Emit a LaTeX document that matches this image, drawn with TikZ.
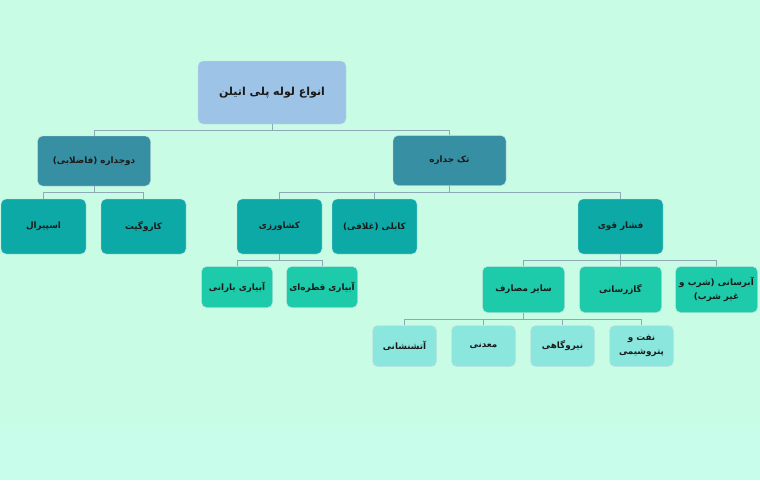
\documentclass[tikz,border=0pt]{standalone}
\usepackage{fontspec}
\TeXXeTstate=1
\newfontfamily\fafont[Script=Arabic]{DejaVu Sans}
\definecolor{bgtop}{HTML}{C8FCE4}
\definecolor{bgbot}{HTML}{C8FDEB}
\definecolor{crootfill}{HTML}{9DC3E6}
\definecolor{clvla}{HTML}{378FA3}
\definecolor{clvlb}{HTML}{0DA9A7}
\definecolor{clvlc}{HTML}{1DCBAA}
\definecolor{clvld}{HTML}{8BE7DE}
\definecolor{cconn}{HTML}{8FA8B6}
\definecolor{ctext}{HTML}{1A1A1A}
\tikzset{
  box/.style={rounded corners=5pt, draw=white!60!cconn, line width=0.4pt, inner sep=2pt,
    align=center, text=ctext, font=\fafont\bfseries\fontsize{8.8}{14}\selectfont},
  rootbox/.style={box, fill=crootfill, minimum width=148, minimum height=63,
    font=\fafont\bfseries\fontsize{11}{13}\selectfont},
  boxa/.style={box, fill=clvla, minimum width=113, minimum height=50},
  boxb/.style={box, fill=clvlb, minimum width=85, minimum height=55},
  boxc/.style={box, fill=clvlc, minimum width=71, minimum height=41},
  boxcw/.style={box, fill=clvlc, minimum width=82, minimum height=46},
  boxd/.style={box, fill=clvld, minimum width=64, minimum height=41},
  conn/.style={draw=cconn, line width=0.7pt}
}
\begin{document}
\begin{tikzpicture}[x=1pt,y=-1pt]
\fill[bgbot] (0,0) rectangle (760,480);
\fill[bgtop] (0,0) rectangle (760,425);
\useasboundingbox (0,0) rectangle (760,480);
% nodes
\node[rootbox] (root) at (272,92.5) {\beginR انواع لوله پلی اتیلن\endR};
\node[boxa] (dj) at (94,161) {\beginR دوجداره (فاضلابی)\endR};
\node[boxa] (tj) at (449.5,160.5) {\beginR تک جداره\endR};
\node[boxb] (asp) at (43.5,226.5) {\beginR اسپیرال\endR};
\node[boxb] (kar) at (143.5,226.5) {\beginR کاروگیت\endR};
\node[boxb] (kesh) at (279.5,226.5) {\beginR کشاورزی\endR};
\node[boxb] (kab) at (374.5,226.5) {\beginR کابلی (غلافی)\endR};
\node[boxb] (fesh) at (620.5,226.5) {\beginR فشار قوی\endR};
\node[boxc] (bar) at (237,287) {\beginR آبیاری بارانی\endR};
\node[boxc] (ghat) at (322,287) {\beginR آبیاری قطره‌ای\endR};
\node[boxcw] (sayer) at (523.5,289.5) {\beginR سایر مصارف\endR};
\node[boxcw] (gaz) at (620.5,289.5) {\beginR گازرسانی\endR};
\node[boxcw] (ab) at (716.5,289.5) {\beginR آبرسانی (شرب و\endR\\\beginR غیر شرب)\endR};
\node[boxd] (atash) at (404.5,346) {\beginR آتشنشانی\endR};
\node[boxd] (maad) at (483.5,346) {\beginR معدنی\endR};
\node[boxd] (niru) at (562.5,346) {\beginR نیروگاهی\endR};
\node[boxd] (naft) at (641.5,346) {\beginR نفت و\endR\\\beginR پتروشیمی\endR};
% connectors
\draw[conn] (root.south) -- ++(0,6.5) -| (dj.north);
\draw[conn] (root.south) -- ++(0,6.5) -| (tj.north);
\draw[conn] (dj.south) -- ++(0,6.5) -| (asp.north);
\draw[conn] (dj.south) -- ++(0,6.5) -| (kar.north);
\draw[conn] (tj.south) -- ++(0,7) -| (kesh.north);
\draw[conn] (tj.south) -- ++(0,7) -| (kab.north);
\draw[conn] (tj.south) -- ++(0,7) -| (fesh.north);
\draw[conn] (kesh.south) -- ++(0,6.5) -| (bar.north);
\draw[conn] (kesh.south) -- ++(0,6.5) -| (ghat.north);
\draw[conn] (fesh.south) -- ++(0,6.5) -| (sayer.north);
\draw[conn] (fesh.south) -- ++(0,6.5) -| (gaz.north);
\draw[conn] (fesh.south) -- ++(0,6.5) -| (ab.north);
\draw[conn] (sayer.south) -- ++(0,7) -| (atash.north);
\draw[conn] (sayer.south) -- ++(0,7) -| (maad.north);
\draw[conn] (sayer.south) -- ++(0,7) -| (niru.north);
\draw[conn] (sayer.south) -- ++(0,7) -| (naft.north);
\end{tikzpicture}
\end{document}
